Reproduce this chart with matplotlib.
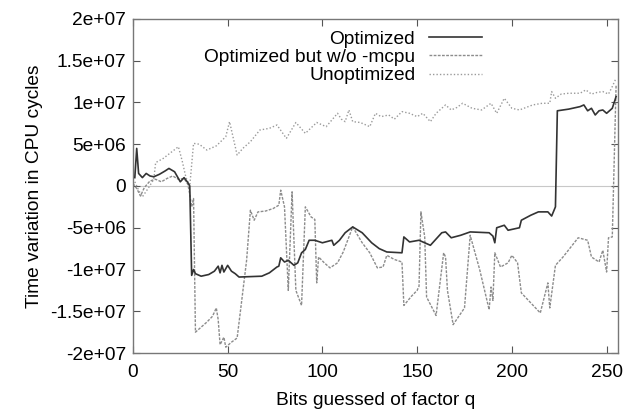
import numpy as np
import matplotlib
matplotlib.use("Agg")
import matplotlib.pyplot as plt

plt.rcParams['font.family'] = ['Liberation Sans', 'DejaVu Sans']

# values in units of 1e6 CPU cycles
opt_bits = [1, 2, 3, 5, 7, 9, 11, 14, 17, 19, 22, 25, 27, 29, 30, 31, 32, 33, 36, 40,
            43, 45, 46, 47, 48, 50, 52, 54, 56, 68, 72, 76, 77, 78, 80, 82, 85, 87, 89, 91,
            93, 96, 100, 105, 106, 109, 112, 116, 121, 126, 130, 134, 142, 143, 146, 151, 157, 163, 165, 168,
            173, 178, 188, 190, 191, 192, 196, 198, 204, 205, 210, 214, 219, 221, 223, 224, 230, 236, 238, 240,
            242, 244, 246, 248, 250, 253, 255]
opt_vals = [1.0, 4.5, 1.5, 1.0, 1.5, 1.2, 1.1, 1.4, 1.8, 2.1, 1.7, 0.5, 1.0, 0.4, 0.0, -10.7, -10.0, -10.5, -10.8, -10.6,
            -10.2, -9.6, -10.4, -9.5, -10.3, -9.5, -10.2, -10.5, -10.9, -10.8, -10.4, -9.7, -9.6, -8.6, -9.1, -8.9, -9.5, -9.2, -8.0, -7.6,
            -6.5, -6.5, -6.8, -6.5, -7.1, -6.5, -5.6, -4.9, -5.6, -6.8, -7.5, -7.9, -8.0, -6.1, -6.7, -6.5, -7.1, -5.6, -5.5, -6.2,
            -5.9, -5.5, -5.6, -6.0, -6.8, -5.0, -4.7, -5.3, -5.0, -4.1, -3.5, -3.1, -3.1, -3.6, -2.5, 9.0, 9.2, 9.5, 9.7, 9.0,
            9.3, 8.5, 9.0, 9.1, 8.7, 9.3, 10.7]

mcpu_bits = [0, 2, 4, 6, 9, 12, 15, 18, 21, 24, 27, 29, 30, 31, 32, 33, 36, 39, 42, 44,
             45, 46, 48, 49, 52, 55, 57, 60, 62, 64, 66, 70, 74, 77, 78, 80, 82, 84, 86, 89,
             91, 94, 96, 97, 98, 101, 104, 108, 111, 116, 121, 125, 129, 132, 134, 138, 142, 143, 147, 150,
             151, 152, 154, 155, 160, 164, 165, 166, 169, 172, 175, 178, 183, 188, 189, 190, 191, 194, 198, 200,
             203, 205, 210, 215, 218, 219, 220, 223, 227, 235, 240, 242, 246, 248, 250, 251, 253, 255]
mcpu_vals = [0.3, -0.3, -1.2, -0.2, 0.6, 0.8, 0.5, 0.9, 1.2, 0.8, 0.9, 0.2, -1.0, -2.5, -1.5, -17.5, -16.9, -16.3, -15.6, -14.6,
             -16.0, -19.0, -18.1, -19.3, -18.7, -18.2, -14.5, -8.9, -2.9, -4.1, -3.1, -3.0, -2.7, -2.3, -0.5, -2.5, -12.5, -0.7, -12.5, -14.3,
             -2.5, -3.7, -4.0, -11.6, -8.5, -9.2, -9.8, -9.2, -7.9, -4.9, -6.8, -8.0, -9.8, -9.7, -8.3, -8.8, -9.1, -14.3, -13.2, -12.5,
             -12.0, -3.1, -6.1, -13.3, -15.5, -8.0, -8.5, -12.5, -16.6, -15.6, -14.6, -5.9, -10.0, -14.8, -12.1, -13.7, -8.0, -9.7, -9.2, -8.3,
             -9.2, -12.8, -14.0, -15.2, -12.5, -11.6, -14.6, -9.5, -8.5, -6.2, -6.5, -8.5, -9.1, -7.7, -10.3, -6.2, -6.1, 12.0]

unopt_bits = [1, 3, 5, 8, 11, 12, 16, 20, 24, 26, 28, 30, 32, 35, 39, 44, 49, 51, 55, 58,
              62, 67, 72, 76, 81, 86, 91, 97, 102, 108, 110, 112, 114, 116, 120, 125, 128, 131, 135, 138,
              142, 146, 150, 153, 157, 160, 165, 168, 171, 174, 179, 184, 189, 192, 196, 200, 204, 211, 216, 220,
              221, 223, 226, 230, 236, 239, 242, 245, 248, 251, 253, 255]
unopt_vals = [0.5, -0.5, -1.3, -0.3, 0.8, 2.8, 3.3, 4.0, 4.7, 3.0, 1.0, 0.0, 5.1, 5.0, 4.3, 4.8, 5.9, 7.7, 3.7, 4.5,
              5.3, 6.7, 6.9, 7.3, 5.7, 7.6, 6.3, 7.6, 7.1, 8.7, 8.0, 7.7, 9.1, 7.7, 7.6, 7.1, 8.7, 8.3, 8.5, 8.0,
              8.9, 8.7, 8.3, 8.7, 7.7, 8.7, 9.7, 9.1, 9.4, 9.9, 9.3, 9.1, 9.9, 8.7, 10.5, 9.3, 9.1, 9.7, 9.9, 9.9,
              11.3, 10.5, 11.0, 11.1, 11.1, 11.5, 11.0, 11.2, 11.3, 11.0, 11.9, 12.9]

ytick_vals = [-2e7, -1.5e7, -1e7, -5e6, 0, 5e6, 1e7, 1.5e7, 2e7]
ytick_labels = ['-2e+07', '-1.5e+07', '-1e+07', '-5e+06', '0', '5e+06', '1e+07', '1.5e+07', '2e+07']

fig = plt.figure(figsize=(6.27, 4.11), dpi=100)
ax = fig.add_axes([0.212, 0.141, 0.7736, 0.813])

ax.axhline(0, color='#c8c8c8', lw=0.8, zorder=1)

ax.plot(opt_bits, np.array(opt_vals) * 1e6, color='#333333', lw=1.2, label='Optimized', zorder=3)
ax.plot(mcpu_bits, np.array(mcpu_vals) * 1e6, color='#8c8c8c', lw=1.0, linestyle=(0, (2, 1)),
        label='Optimized but w/o -mcpu', zorder=2)
ax.plot(unopt_bits, np.array(unopt_vals) * 1e6, color='#9a9a9a', lw=1.0, linestyle=(0, (1, 1.5)),
        label='Unoptimized', zorder=2)

ax.set_xlim(0, 256)
ax.set_ylim(-2e7, 2e7)
ax.set_xticks([0, 50, 100, 150, 200, 250])
ax.set_yticks(ytick_vals)
ax.set_yticklabels(ytick_labels)

fs = 13.8
ax.tick_params(direction='in', length=5, top=True, right=True, labelsize=fs, color='#555555')
ax.tick_params(axis='x', pad=8)
ax.tick_params(axis='y', pad=5)
for s in ax.spines.values():
    s.set_color('#777777')
    s.set_linewidth(1.0)

# keep the x label just inside the bottom edge
ax.set_xlabel('Bits guessed of factor q', fontsize=fs, labelpad=8)
ax.set_ylabel('Time variation in CPU cycles', fontsize=fs, labelpad=5)

ax.legend(loc='upper right', bbox_to_anchor=(0.74, 0.995), frameon=False, markerfirst=False,
          fontsize=fs, handlelength=2.8, handletextpad=0.7, labelspacing=0.05, borderpad=0)

plt.savefig('out.png', dpi=100)
